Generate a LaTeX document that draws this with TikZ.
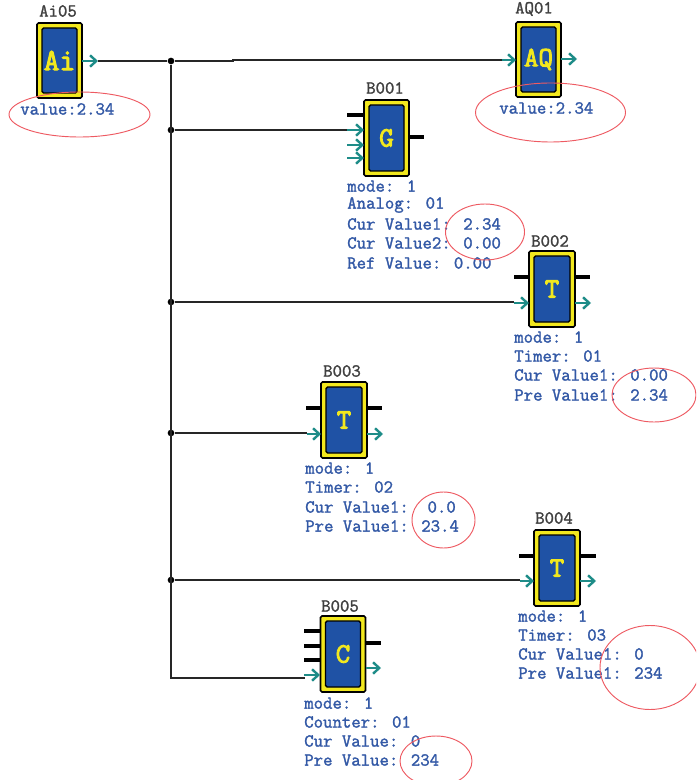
\documentclass[tikz,border=0pt]{standalone}
\usepackage{fontspec}
\usetikzlibrary{arrows.meta}
\definecolor{fbyellow}{HTML}{F2E81E}
\definecolor{fbblue}{HTML}{1F52A5}
\definecolor{fbteal}{HTML}{1E8C88}
\definecolor{fbtext}{HTML}{3359A6}
\definecolor{fbred}{HTML}{EE5A62}
\newfontfamily\slabmono[FakeBold=1.6]{Latin Modern Mono}
\newfontfamily\slabheavy[FakeBold=3.2]{Latin Modern Mono}
\newcommand{\lblfont}{\slabmono\fontsize{13.7pt}{14pt}\selectfont}
\tikzset{
  x=0.75pt,y=-0.75pt,
  outerbox/.style={draw=black,line width=1.2pt,fill=fbyellow,rounded corners=1.2pt,inner sep=0pt},
  innerbox/.style={draw=black,line width=1.1pt,fill=fbblue,rounded corners=1.2pt,inner sep=0pt},
  glyph/.style={font=\slabheavy\fontsize{21pt}{21pt}\selectfont,text=fbyellow,inner sep=0pt},
  blockname/.style={font=\lblfont,text=black!75,inner sep=0pt},
  info/.style={font=\lblfont,text=fbtext,anchor=west,inner sep=0pt},
  wire/.style={draw=black!85,line width=0.95pt},
  stub/.style={draw=black,line width=2.4pt},
  pin/.style={draw=fbteal,line width=1.8pt,-{Straight Barb[length=4.6pt,width=8.5pt]}},
  junction/.style={circle,fill=black,inner sep=0pt,minimum size=5pt},
  halo/.style={draw=fbred,line width=0.7pt},
}
% name, x-centre, y-centre, width, height, glyph
\newcommand{\fblock}[6]{%
  \node[outerbox,minimum width=#4*0.75pt,minimum height=#5*0.75pt] (#1) at (#2,#3) {};
  \node[innerbox,minimum width=(#4-10)*0.75pt,minimum height=(#5-10)*0.75pt] (#1i) at (#2,#3) {};
  \node[glyph] (#1g) at (#2,#3) {#6};
}
\newcommand{\pinstub}[3]{\path[stub] (#1,#3) -- (#2,#3);}
\newcommand{\pinarrow}[3]{\path[pin] (#1,#3) -- (#2,#3);}
\begin{document}
\begin{tikzpicture}
\useasboundingbox (0,0) rectangle (696,780);
\fill[white] (0,0) rectangle (696,780);

% junctions
\node[junction] (j1) at (171,61) {};
\node[junction] (j2) at (171,130) {};
\node[junction] (j3) at (171,302) {};
\node[junction] (j4) at (171,433) {};
\node[junction] (j5) at (171,580) {};
\coordinate (j6) at (171,678);

% connector targets
\coordinate (a0) at (98,61);
\coordinate (a1) at (502,60);
\coordinate (a2) at (347,130);
\coordinate (a3) at (514,302);
\coordinate (a4) at (307,433);
\coordinate (a5) at (520,580);
\coordinate (a6) at (305,678);

\path[wire] (a0) -- (j1) -- (233,61) -- (233,60) -- (a1);
\path[wire] (j1) -- (j6) -- (a6);
\path[wire] (j2) -- (a2);
\path[wire] (j3) -- (a3);
\path[wire] (j4) -- (a4);
\path[wire] (j5) -- (a5);

% blocks
\fblock{ai}{59.5}{60.5}{45}{75}{\fontsize{23pt}{23pt}\selectfont Ai}
\fblock{aq}{538.5}{59.5}{45}{75}{AQ}
\fblock{bone}{386.5}{138}{45}{76}{G}
\fblock{btwo}{552}{289}{46}{76}{T}
\fblock{bthree}{344}{420}{46}{76}{T}
\fblock{bfour}{557}{568}{46}{76}{T}
\fblock{bfive}{343}{654}{45}{76}{C}

% pins
\pinarrow{82}{98}{61}
\pinarrow{502}{516}{60}
\pinarrow{561}{577}{59}
\pinstub{347}{364}{115}
\pinarrow{347}{364}{130}
\pinarrow{347}{364}{145}
\pinarrow{347}{364}{158}
\pinstub{409}{424}{137}
\pinstub{514}{529}{277}
\pinarrow{514}{529}{303}
\pinstub{575}{590}{277}
\pinarrow{575}{591}{303}
\pinstub{306}{321}{408}
\pinarrow{307}{321}{434}
\pinstub{367}{382}{408}
\pinarrow{367}{383}{434}
\pinstub{519}{534}{556}
\pinarrow{520}{534}{581}
\pinstub{580}{596}{556}
\pinarrow{580}{596}{581}
\pinstub{304}{320}{631}
\pinstub{304}{320}{646}
\pinstub{304}{320}{660}
\pinarrow{304}{320}{675}
\pinstub{366}{381}{643}
\pinarrow{366}{381}{668}

% block names
\node[blockname] (nai) at (58,11) {Ai05};
\node[blockname] (naq) at (534,9) {AQ01};
\node[blockname] (nbone) at (385,88) {B001};
\node[blockname] (nbtwo) at (550,241) {B002};
\node[blockname] (nbthree) at (342,371) {B003};
\node[blockname] (nbfour) at (554,518) {B004};
\node[blockname] (nbfive) at (340,606) {B005};

% info text
\node[info] (t01) at (20,109) {value:2.34};
\node[info] (t02) at (499,108) {value:2.34};
\node[info] (t03) at (347,186) {mode: 1};
\node[info] (t04) at (347,205) {Analog: 01};
\node[info] (t05) at (347,224) {Cur Value1: 2.34};
\node[info] (t06) at (347,243) {Cur Value2: 0.00};
\node[info] (t07) at (347,263) {Ref Value: 0.00};
\node[info] (t08) at (514,337) {mode: 1};
\node[info] (t09) at (514,356) {Timer: 01};
\node[info] (t10) at (514,375) {Cur Value1: 0.00};
\node[info] (t11) at (514,395) {Pre Value1: 2.34};
\node[info] (t12) at (305,468) {mode: 1};
\node[info] (t13) at (305,487) {Timer: 02};
\node[info] (t14) at (305,507) {Cur Value1:~~0.0};
\node[info] (t15) at (305,526) {Pre Value1: 23.4};
\node[info] (t16) at (518,616) {mode: 1};
\node[info] (t17) at (518,635) {Timer: 03};
\node[info] (t18) at (518,654) {Cur Value1: 0};
\node[info] (t19) at (518,673) {Pre Value1: 234};
\node[info] (t20) at (304,703) {mode: 1};
\node[info] (t21) at (304,722) {Counter: 01};
\node[info] (t22) at (304,741) {Cur Value: 0};
\node[info] (t23) at (304,760) {Pre Value: 234};

% hand-drawn ellipses
\begin{scope}
\clip (0,0) rectangle (696,780);
\draw[halo] (79.5,114.5) ellipse [x radius=70.5*0.75pt,y radius=22.5*0.75pt];
\draw[halo] (550.5,112.5) ellipse [x radius=75*0.75pt,y radius=29.5*0.75pt];
\draw[halo] (485,232) ellipse [x radius=39.5*0.75pt,y radius=28*0.75pt];
\draw[halo] (654,395) ellipse [x radius=42*0.75pt,y radius=27*0.75pt];
\draw[halo] (443.5,520) ellipse [x radius=31.5*0.75pt,y radius=28*0.75pt];
\draw[halo] (650,667.5) ellipse [x radius=50*0.75pt,y radius=42*0.75pt];
\draw[halo] (436,761) ellipse [x radius=36*0.75pt,y radius=25*0.75pt];
\end{scope}
\end{tikzpicture}
\end{document}
